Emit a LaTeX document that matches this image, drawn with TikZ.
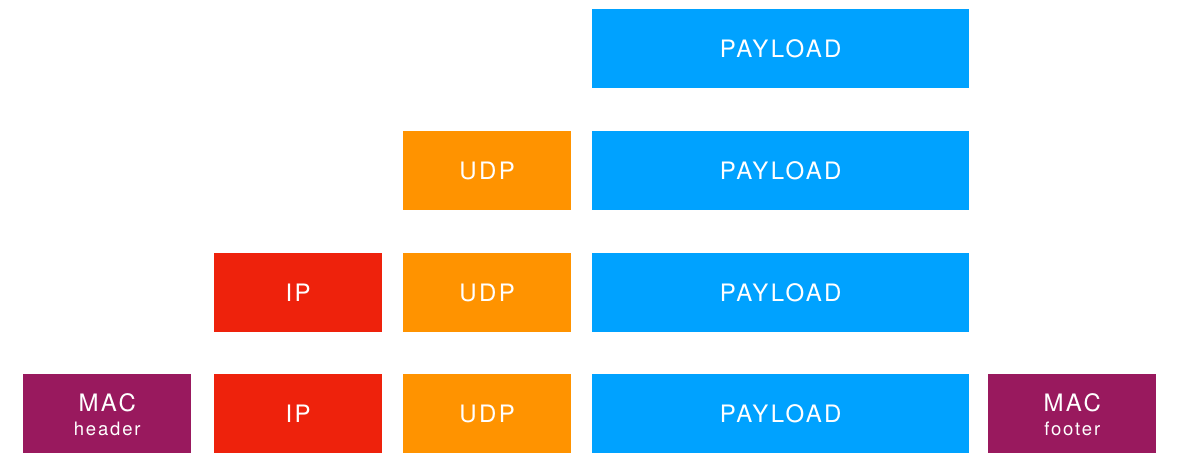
\documentclass[tikz,border=0pt]{standalone}
\usepackage{fontspec}
\setmainfont{TeX Gyre Heros}[LetterSpace=10]
\definecolor{cpurple}{HTML}{99195E}
\definecolor{cred}{HTML}{EE220C}
\definecolor{corange}{HTML}{FF9300}
\definecolor{cblue}{HTML}{00A2FF}
\begin{document}
\begin{tikzpicture}[x=1pt,y=-1pt,
  blk/.style={rectangle, draw=none, text=white, inner sep=0pt, minimum height=79pt, anchor=north west, font=\fontsize{24}{28}\selectfont, align=center},
  payloadbox/.style={blk, fill=cblue, minimum width=377pt},
  udpbox/.style={blk, fill=corange, minimum width=168pt},
  ipbox/.style={blk, fill=cred, minimum width=168pt},
  macbox/.style={blk, fill=cpurple, minimum width=168pt},
  big/.style={text=white, inner sep=0pt, font=\fontsize{24}{28}\selectfont},
  small/.style={text=white, inner sep=0pt, font=\fontsize{18.5}{22}\selectfont}]
\useasboundingbox (0,0) rectangle (1203,473);
% row 1
\node[payloadbox] (p1) at (592,9) {PAYLOAD};
% row 2
\node[udpbox] (u2) at (403,131) {UDP};
\node[payloadbox] (p2) at (592,131) {PAYLOAD};
% row 3
\node[ipbox] (i3) at (214,253) {IP};
\node[udpbox] (u3) at (403,253) {UDP};
\node[payloadbox] (p3) at (592,253) {PAYLOAD};
% row 4
\node[macbox] (mh) at (23,374) {};
\node[ipbox] (i4) at (214,374) {IP};
\node[udpbox] (u4) at (403,374) {UDP};
\node[payloadbox] (p4) at (592,374) {PAYLOAD};
\node[macbox] (mf) at (988,374) {};
\node[big] (mht) at ([yshift=11pt]mh.center) {MAC};
\node[small] (mhs) at ([yshift=-15.5pt]mh.center) {header};
\node[big] (mft) at ([yshift=11pt]mf.center) {MAC};
\node[small] (mfs) at ([yshift=-15.5pt]mf.center) {footer};
\end{tikzpicture}
\end{document}
